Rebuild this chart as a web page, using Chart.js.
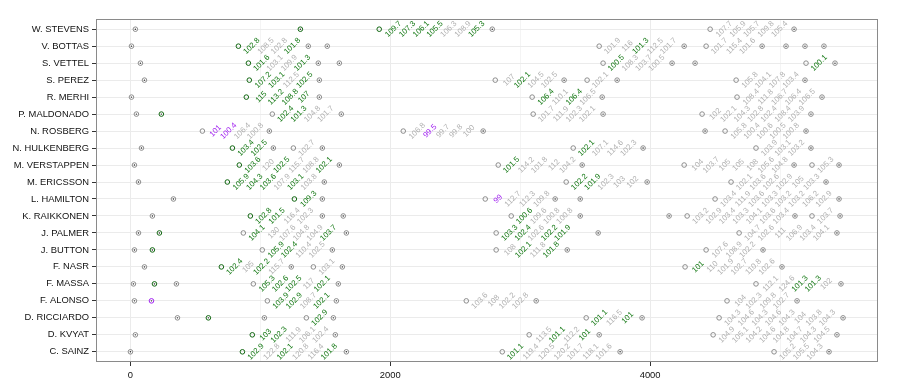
<!DOCTYPE html>
<html>
<head>
<meta charset="utf-8">
<script src="https://cdn.jsdelivr.net/npm/chart.js@4/dist/chart.umd.min.js"></script>
<style>
  html, body { margin: 0; padding: 0; background: #fff; }
  canvas { display: block; }
</style>
</head>
<body>
<canvas id="lapChart" width="898" height="386"></canvas>
<script>
// rows, top to bottom
const drivers = [
  'W. STEVENS', 'V. BOTTAS', 'S. VETTEL', 'S. PEREZ', 'R. MERHI',
  'P. MALDONADO', 'N. ROSBERG', 'N. HULKENBERG', 'M. VERSTAPPEN', 'M. ERICSSON',
  'L. HAMILTON', 'K. RAIKKONEN', 'J. PALMER', 'J. BUTTON', 'F. NASR',
  'F. MASSA', 'F. ALONSO', 'D. RICCIARDO', 'D. KVYAT', 'C. SAINZ'
];

const xTicks = [0, 1000, 2000, 3000, 4000, 5000];

// driver row, stint start (s), marker colour, lap times (g = green, p = purple)
const stints = [
  [0, 1915, 'g', '109.7g 107.3g 106.1g 105.5g 106.3 108.9 105.3g'],
  [0, 4462, 'x', '107.7 105.9 105.7 109.8 105.4'],
  [1, 831, 'g', '102.8g 108.5 102.8 101.8g'],
  [1, 3608, 'x', '101.9 116 101.3g 112.5 101.7'],
  [1, 4431, 'x', '101.7 115.4 101.6'],
  [2, 908, 'g', '101.6g 103.1 109.9 101.3g'],
  [2, 3638, 'x', '100.5g 108.3 103.7 100.5'],
  [2, 5200, 'x', '100.1g'],
  [3, 915, 'g', '107.2g 103.1g 112.5 102.5g'],
  [3, 2808, 'x', '107 102.1g 104.5 102.5'],
  [3, 3515, 'x', '102.1'],
  [3, 4662, 'x', '105.8 104.1 107.8 103.4'],
  [4, 892, 'g', '115g 113.2g 108.8g 107g'],
  [4, 3092, 'x', '106.4g 110.1 106.4g 106.5'],
  [4, 4669, 'x', '108.4 111.8 106.7 106.4 106.5'],
  [5, 1092, 'x', '102.4g 101.3g 104.8 101.7'],
  [5, 3100, 'x', '101.7 111.9 102.3 102.1'],
  [5, 4400, 'x', '102 102.1 104.3 102.8 102.4 108.4 103.9'],
  [6, 554, 'x', '101p 100.4p 106.4 100.8'],
  [6, 2100, 'x', '106.8 99.5p 99.7 99.8 100'],
  [6, 4577, 'x', '105.8 100.4 100.6 100.5 100.8'],
  [7, 785, 'g', '103.4g 102.5g'],
  [7, 1254, 'x', '102.7'],
  [7, 3408, 'x', '102.1g 107.1 114.6 102.3'],
  [7, 4815, 'x', '103.9 103.1 103.2'],
  [8, 838, 'g', '103.6g 120 102.5g 115.7 108.8 102.1g'],
  [8, 2831, 'x', '101.5g 114.2 101.8 112 104.2'],
  [8, 4262, 'x', '104 103.7 105 105 108 105.6 104.8'],
  [8, 5246, 'x', '105.3'],
  [9, 746, 'g', '105.9g 104.3g 103.6g 107.9 103.1g 103.8'],
  [9, 3354, 'x', '102.2g 101.9g 102.3 103 102'],
  [9, 4623, 'x', '102.1 103.6 102.6 102.9 105 103.3'],
  [10, 1262, 'g', '109.3g'],
  [10, 2731, 'x', '99p 112.7 112.3 109.8'],
  [10, 4500, 'x', '103.4 111.9 103.6 103.3 103.2 103.2 106.2 102.9'],
  [11, 923, 'g', '102.8g 101.5g 116.4 102.3'],
  [11, 2931, 'x', '100.6g 109.6 100.8 100.8'],
  [11, 4285, 'x', '103.2 102.9 103.4 103.3 104.1 103.6 103.4'],
  [11, 5246, 'x', '103.7'],
  [12, 869, 'x', '104.1g 130 107.6 104.8 104.9 103.7g'],
  [12, 2815, 'x', '103.3g 102.4g 102.6 102.2g 101.9g'],
  [12, 4685, 'x', '104.7 102.6 111 106.9 103.4 104.1'],
  [13, 1015, 'x', '105.9g 102.4g 110.4 102.5'],
  [13, 2815, 'x', '108 102.1g 111.8 101.8g'],
  [13, 4431, 'x', '107.6 108.9 102.2'],
  [14, 700, 'g', '102.4g 105 102.2g 115.7'],
  [14, 1408, 'x', '103.1'],
  [14, 4269, 'x', '101g 110 101.9 102.7 110.8 102.6'],
  [15, 946, 'x', '105.3g 102.6g 102.5g 117 102.1g'],
  [15, 4815, 'x', '112.1 124.6 101.3g 101.3g 102'],
  [16, 1054, 'x', '103.9g 102.9g 108.7 102.1g'],
  [16, 2585, 'x', '103.6 108 102.2 102.8'],
  [16, 4592, 'x', '104 102.3 109.8 102.7'],
  [17, 1354, 'x', '102.9g'],
  [17, 3508, 'x', '101.1g 116.5 101g'],
  [17, 4531, 'x', '104.3 104.6 104.3 104.6 104.3 104 103.8 104.3'],
  [18, 938, 'g', '103g 102.3g 111.9 106.1 102.4'],
  [18, 3069, 'x', '113.5 101.1g 112.2 101g'],
  [18, 4485, 'x', '104.9 105.1 104.2 104.6 104.8 104.7 104.3 104.5'],
  [19, 862, 'g', '102.9g 122.8 102.1g 120.8 116.4 101.8g'],
  [19, 2862, 'x', '101.1g 119.4 120.5 120.2 101.7 118.1 101.6'],
  [19, 4954, 'x', '105.2 105.5 104.3']
];

// dotted markers: driver row, time (s), colour
const pitMarks = [
  [0, 38, 'x'], [0, 1308, 'g'], [0, 2785, 'x'], [0, 5108, 'x'],
  [1, 8, 'x'], [1, 1369, 'x'], [1, 1515, 'x'], [1, 4262, 'x'], [1, 4862, 'x'], [1, 5046, 'x'], [1, 5192, 'x'], [1, 5338, 'x'],
  [2, 77, 'x'], [2, 1446, 'x'], [2, 1608, 'x'], [2, 4169, 'x'], [2, 4346, 'x'], [2, 5423, 'x'],
  [3, 108, 'x'], [3, 1454, 'x'], [3, 3338, 'x'], [3, 3746, 'x'], [3, 5192, 'x'],
  [4, 8, 'x'], [4, 1454, 'x'], [4, 3631, 'x'], [4, 5323, 'x'],
  [5, 46, 'x'], [5, 238, 'g'], [5, 1623, 'x'], [5, 3638, 'x'], [5, 5238, 'x'],
  [6, 1069, 'x'], [6, 2715, 'x'], [6, 4423, 'x'], [6, 5200, 'x'],
  [7, 85, 'x'], [7, 1100, 'x'], [7, 1477, 'x'], [7, 3946, 'x'], [7, 5238, 'x'],
  [8, 31, 'x'], [8, 1608, 'x'], [8, 3477, 'x'], [8, 5108, 'x'], [8, 5454, 'x'],
  [9, 62, 'x'], [9, 1492, 'x'], [9, 3977, 'x'], [9, 5354, 'x'],
  [10, 331, 'x'], [10, 1477, 'x'], [10, 3269, 'x'], [10, 3462, 'x'], [10, 5454, 'x'],
  [11, 169, 'x'], [11, 1477, 'x'], [11, 1638, 'x'], [11, 3462, 'x'], [11, 4146, 'x'], [11, 5115, 'x'], [11, 5462, 'x'],
  [12, 62, 'x'], [12, 223, 'g'], [12, 1662, 'x'], [12, 3600, 'x'], [12, 5438, 'x'],
  [13, 31, 'x'], [13, 169, 'g'], [13, 1554, 'x'], [13, 3362, 'x'], [13, 4869, 'x'],
  [14, 108, 'x'], [14, 1238, 'x'], [14, 1631, 'x'], [14, 5015, 'x'],
  [15, 23, 'x'], [15, 185, 'g'], [15, 354, 'x'], [15, 1600, 'x'], [15, 5469, 'x'],
  [16, 31, 'x'], [16, 162, 'p'], [16, 1585, 'x'], [16, 3123, 'x'], [16, 5131, 'x'],
  [17, 362, 'x'], [17, 600, 'g'], [17, 1031, 'x'], [17, 1562, 'x'], [17, 3938, 'x'], [17, 5485, 'x'],
  [18, 38, 'x'], [18, 1577, 'x'], [18, 3608, 'x'], [18, 5438, 'x'],
  [19, 0, 'x'], [19, 1662, 'x'], [19, 3769, 'x'], [19, 5377, 'x']
];

const ringColours = { g: '#116611', p: '#a020f0', x: '#8c8c8c' };
const textColours = { g: '#117711', p: '#a020f0', x: '#b0b0b0' };

// build points + labels (labels sit at the end of each lap)
const openPts = [];
const lapLabels = [];
stints.forEach(([row, start, col, laps]) => {
  openPts.push({ x: start, y: row, c: col });
  let t = start;
  laps.split(' ').forEach(s => {
    const code = /[gp]$/.test(s) ? s.slice(-1) : 'x';
    const txt = s.replace(/[gp]$/, '');
    t += parseFloat(txt);
    lapLabels.push({ x: t, y: row, text: txt, c: code });
  });
});
const dotPts = pitMarks.map(([row, x, col]) => ({ x: x, y: row, c: col }));

const lapLabelPlugin = {
  id: 'lapLabels',
  afterDatasetsDraw(chart) {
    const { ctx, scales: { x, y } } = chart;
    ctx.save();
    ctx.font = '7.8px "Liberation Sans", Arial, sans-serif';
    ctx.textAlign = 'center';
    ctx.textBaseline = 'middle';
    lapLabels.forEach(l => {
      ctx.save();
      ctx.translate(x.getPixelForValue(l.x), y.getPixelForValue(l.y));
      ctx.rotate(-Math.PI / 4);
      ctx.fillStyle = textColours[l.c];
      ctx.fillText(l.text, 0, 0);
      ctx.restore();
    });
    ctx.restore();
  }
};

const panelBorder = {
  id: 'panelBorder',
  afterDraw(chart) {
    const { ctx, chartArea: a } = chart;
    ctx.save();
    ctx.strokeStyle = '#8a8a8a';
    ctx.lineWidth = 1;
    ctx.strokeRect(a.left + 0.5, a.top + 0.5, a.right - a.left - 1, a.bottom - a.top - 1);
    ctx.restore();
  }
};

new Chart(document.getElementById('lapChart'), {
  type: 'scatter',
  data: {
    datasets: [
      {
        data: openPts,
        pointRadius: 2.3,
        pointBorderWidth: 1,
        pointBackgroundColor: 'rgba(0,0,0,0)',
        pointBorderColor: c => ringColours[c.raw ? c.raw.c : 'x']
      },
      {
        data: dotPts,
        pointRadius: 2.3,
        pointBorderWidth: 1,
        pointBackgroundColor: 'rgba(0,0,0,0)',
        pointBorderColor: c => ringColours[c.raw ? c.raw.c : 'x']
      },
      {
        data: dotPts,
        pointRadius: 0.7,
        pointBorderWidth: 0,
        pointBackgroundColor: '#222'
      }
    ]
  },
  options: {
    responsive: false,
    animation: false,
    events: [],
    layout: { padding: { top: 19, right: 20, left: 0, bottom: 0 } },
    plugins: { legend: { display: false }, tooltip: { enabled: false } },
    scales: {
      x: {
        type: 'linear',
        min: -265,
        max: 5754,
        afterBuildTicks: s => { s.ticks = xTicks.map(v => ({ value: v })); },
        afterFit: s => { s.height = 24; },
        border: { display: false },
        grid: {
          color: c => (c.tick && c.tick.value % 2000 === 0) ? '#ebebeb' : '#f4f4f4',
          tickColor: c => (c.tick && c.tick.value % 2000 === 0) ? '#333' : 'rgba(0,0,0,0)',
          tickLength: 4
        },
        ticks: {
          autoSkip: false,
          maxRotation: 0,
          padding: 4,
          color: '#111',
          font: { family: '"Liberation Sans", Arial, sans-serif', size: 9.4 },
          callback: v => (v % 2000 === 0 ? String(v) : '')
        }
      },
      y: {
        type: 'linear',
        reverse: true,
        min: -0.6,
        max: 19.6,
        afterBuildTicks: s => { s.ticks = drivers.map((d, i) => ({ value: i })); },
        afterFit: s => { s.width = 96; },
        border: { display: false },
        grid: { color: '#ebebeb', tickColor: '#333', tickLength: 4 },
        ticks: {
          autoSkip: false,
          padding: 3,
          color: '#111',
          font: { family: '"Liberation Sans", Arial, sans-serif', size: 9.4 },
          callback: v => drivers[v]
        }
      }
    }
  },
  plugins: [lapLabelPlugin, panelBorder]
});
</script>
</body>
</html>
